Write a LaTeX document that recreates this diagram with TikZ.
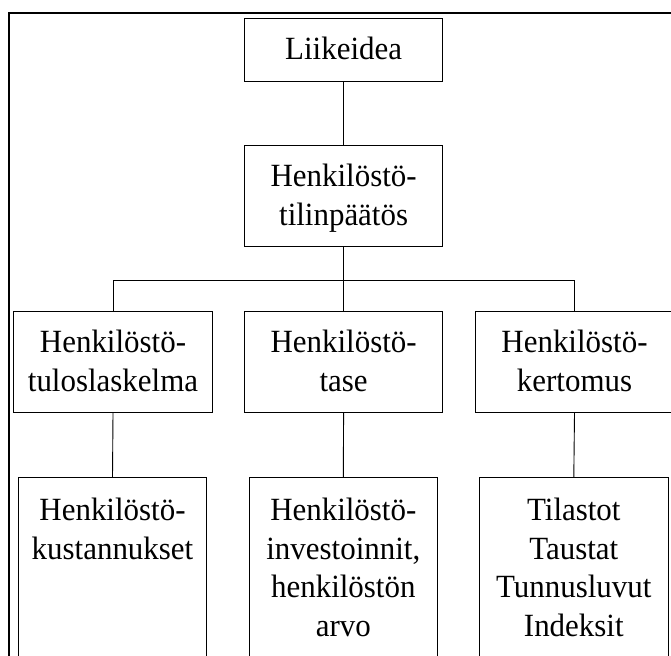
\documentclass[tikz,border=0pt]{standalone}
\usepackage{fontspec}
\setmainfont{Liberation Serif}[FakeStretch=0.955]
\newcommand\mystr{\rule[-9.5pt]{0pt}{38.7pt}}
\begin{document}
\begin{tikzpicture}[x=1pt,y=-1pt,
  txt/.style={font=\fontsize{32.4}{38.7}\selectfont},
  box/.style={txt, draw, line width=0.9pt, inner sep=0pt, align=center, minimum width=198.5pt, minimum height=101pt},
  topbox/.style={box, minimum height=63pt},
  lowbox/.style={txt, draw, line width=0.9pt, inner xsep=0pt, inner ysep=13.5pt, anchor=north, minimum width=188.5pt},
  conn/.style={line width=0.9pt},
  frame/.style={line width=2pt}]
\useasboundingbox (0,0) rectangle (671,655);
\draw[frame] (8.6,720) -- (8.6,12.7) -- (720,12.7);
\node[topbox] (idea) at (343.6,49.7) {\mystr Liikeidea};
\node[box] (tp) at (343.6,196.3) {\mystr Henkilöstö-\\ tilinpäätös\mystr};
\node[box] (r1) at (113,362.2) {\mystr Henkilöstö-\\ tuloslaskelma\mystr};
\node[box] (r2) at (343.6,362.2) {\mystr Henkilöstö-\\ tase\mystr};
\node[box] (r3) at (574.5,362.2) {\mystr Henkilöstö-\\ kertomus\mystr};
\node[lowbox] (b1) at (112.5,477.3) {\parbox[t][190pt][t]{186pt}{\centering\mystr Henkilöstö-\\ kustannukset}};
\node[lowbox] (b2) at (343.3,477.3) {\parbox[t][190pt][t]{186pt}{\centering\mystr Henkilöstö-\\ investoinnit,\\ henkilöstön\\ arvo}};
\node[lowbox] (b3) at (573.8,477.3) {\parbox[t][190pt][t]{186pt}{\centering\mystr Tilastot\\ Taustat\\ Tunnusluvut\\ Indeksit}};
\coordinate (bus) at (343.6,280.3);
\draw[conn] (idea.south) -- (tp.north);
\draw[conn] (tp.south) -- (bus);
\draw[conn] (r1.north) |- (bus) -| (r3.north);
\draw[conn] (bus) -- (r2.north);
\draw[conn] (r1.south) -- (b1.north);
\draw[conn] (r2.south) -- (b2.north);
\draw[conn] (r3.south) -- (b3.north);
\end{tikzpicture}
\end{document}
